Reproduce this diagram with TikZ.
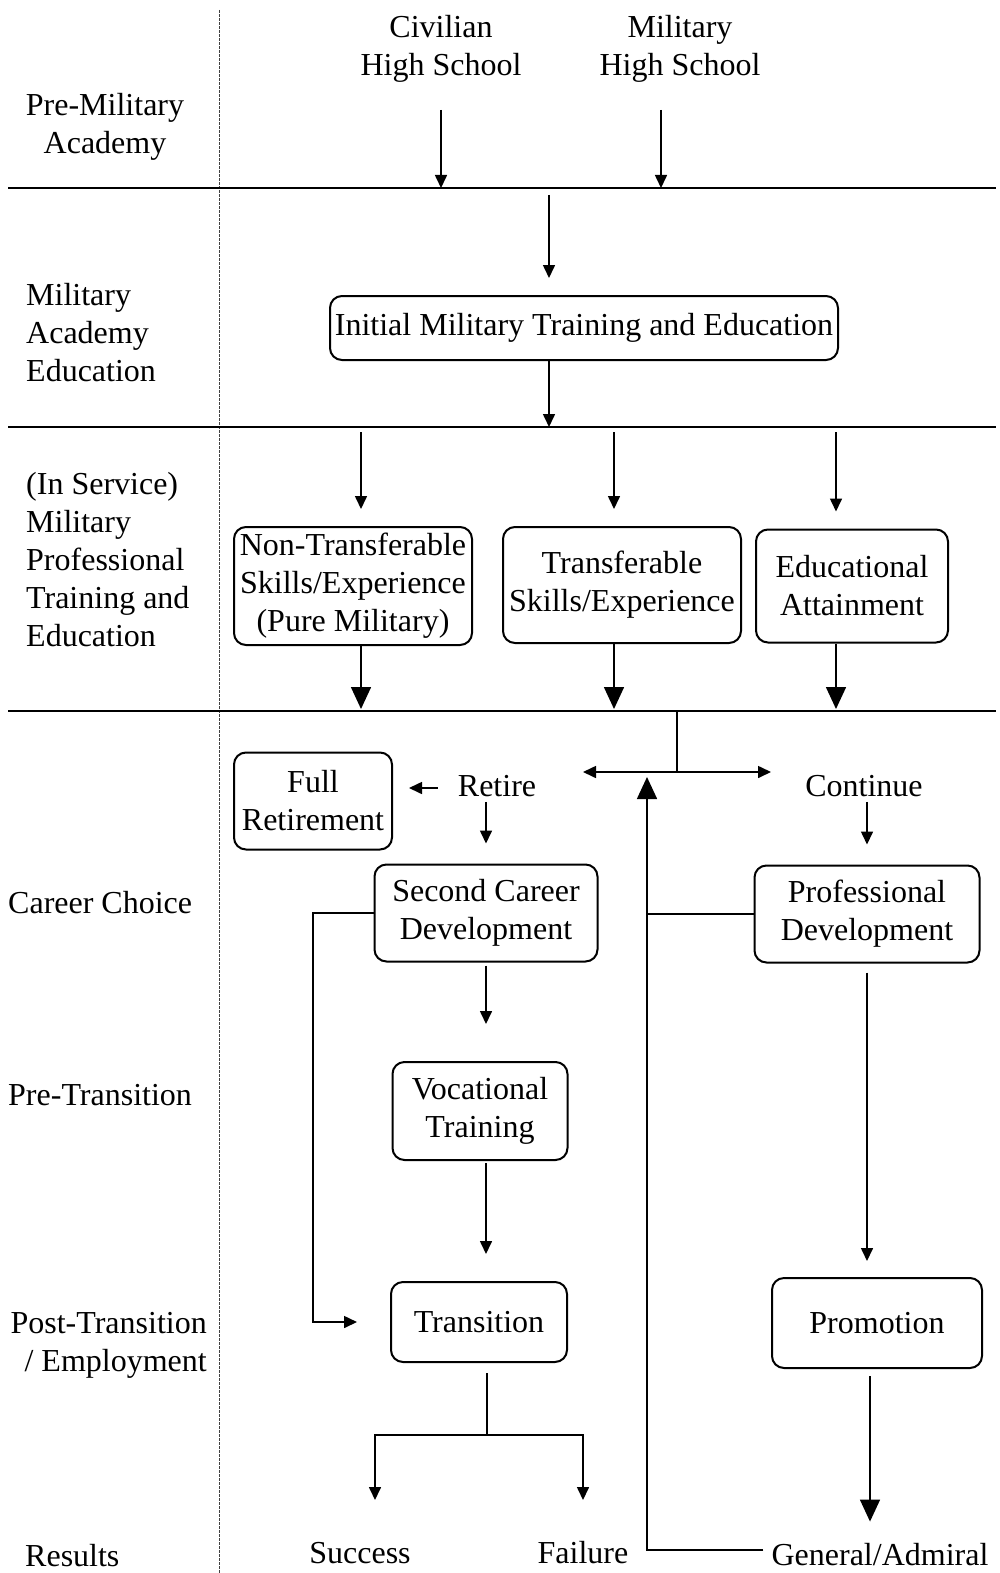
\documentclass[tikz,border=0pt]{standalone}
\usepackage{fontspec}
\setmainfont{Liberation Serif}
\usepackage{tikz}
\usetikzlibrary{arrows.meta, positioning}

\begin{document}
\begin{tikzpicture}[x=1pt, y=-1pt, font=\fontsize{32}{38}\selectfont,
  every node/.style={inner sep=0pt},
  stage/.style={draw, line width=2pt, rounded corners=12pt, align=center},
  conn/.style={line width=1.6pt},
  arr/.style={conn, -{Triangle[length=13pt,width=12pt]}},
  bigarr/.style={conn, -{Triangle[length=22pt,width=20pt]}},
  rule/.style={line width=2.4pt}]
  \useasboundingbox (0,0) rectangle (999,1573);

  % Phase rules
  \draw[line width=1pt, black!75, dash pattern=on 3pt off 1pt] (219,10) -- (219,1573);
  \coordinate (ruleA) at (8,188);
  \coordinate (ruleB) at (8,427);
  \coordinate (ruleC) at (8,711);
  \draw[rule] (ruleA) -- (996,188);
  \draw[rule] (ruleB) -- (996,427);
  \draw[rule] (ruleC) -- (996,711);

  % Phase labels
  \node[align=center] (premil) at (105,127) {Pre-Military\\Academy};
  \node[align=left, anchor=west] (acad) at (26,333) {Military\\Academy\\Education};
  \node[align=left, anchor=west] (insv) at (26,560) {(In Service)\\Military\\Professional\\Training and\\Education};
  \node[anchor=west] (choice) at (8,903) {Career Choice};
  \node[anchor=west] (pretr) at (8,1095) {Pre-Transition};
  \node[align=right, anchor=east] (posttr) at (207,1345) {Post-Transition\\/ Employment};
  \node[anchor=west] (res) at (25,1556) {Results};

  % Entry
  \node[align=center] (civ) at (441,49) {Civilian\\High School};
  \node[align=center] (mil) at (680,49) {Military\\High School};
  \draw[arr, shorten <=27pt] (civ.south) -- (civ.south |- ruleA);
  \draw[arr, shorten <=27pt] ([xshift=-19pt]mil.south) -- ([xshift=-19pt]mil.south |- ruleA);

  % Academy
  \node[stage, minimum width=508pt, minimum height=64pt] (init) at (584,328) {Initial Military Training and Education};
  \coordinate (feedA) at (549,188);
  \draw[arr, shorten <=7pt, shorten >=17pt] (feedA) -- (feedA |- init.north);
  \draw[arr] (init.south -| feedA) -- (feedA |- ruleB);

  % In service
  \node[stage, minimum width=238pt, minimum height=118pt] (ntr) at (353,586) {Non-Transferable\\Skills/Experience\\(Pure Military)};
  \node[stage, minimum width=238pt, minimum height=116pt] (trf) at (622,585) {Transferable\\Skills/Experience};
  \node[stage, minimum width=192pt, minimum height=113pt] (edu) at (852,586) {Educational\\Attainment};
  \foreach \x/\b in {361/ntr, 614/trf, 836/edu} {
    \draw[arr, shorten <=5pt, shorten >=17pt] (\x,427) -- (\x,0 |- \b.north);
    \draw[bigarr] (\x,0 |- \b.south) -- (\x,709);
  }

  % Career choice
  \coordinate (fork) at (677,711);
  \coordinate (split) at (677,772);
  \coordinate (toRet) at (583,772);
  \coordinate (toCont) at (771,772);
  \draw[conn] (fork) -- (split);
  \draw[conn, {Triangle[length=13pt,width=12pt]}-{Triangle[length=13pt,width=12pt]}] (toRet) -- (toCont);
  \node (ret) at (497,786) {Retire};
  \node (cont) at (864,786) {Continue};
  \node[stage, minimum width=158pt, minimum height=97pt] (full) at (313,801) {Full\\Retirement};
  \node[stage, minimum width=223pt, minimum height=97pt] (second) at (486,913) {Second Career\\Development};
  \node[stage, minimum width=225pt, minimum height=97pt] (prof) at (867,914) {Professional\\Development};
  \draw[arr, shorten <=20pt, shorten >=16pt] ([yshift=-2pt]ret.west) -- ([yshift=-2pt]full.east |- ret.west);
  \draw[arr, shorten <=5pt, shorten >=20pt] (second.north |- ret.south) -- (second.north);
  \draw[arr, shorten <=5pt, shorten >=20pt] (prof.north |- cont.south) -- (prof.north);

  % Pre-transition / transition
  \node[stage, minimum width=175pt, minimum height=98pt] (voc) at (480,1111) {Vocational\\Training};
  \node[stage, minimum width=176pt, minimum height=80pt] (trans) at (479,1322) {Transition};
  \node[stage, minimum width=210pt, minimum height=90pt] (promo) at (877,1323) {Promotion};
  \coordinate (side) at (313,913);
  \draw[arr, shorten >=33pt] (second.west) -- (side) -- (side |- trans.west) -- (trans.west);
  \draw[arr, shorten <=3pt, shorten >=37pt] (second.south) -- (second.south |- voc.north);
  \draw[arr, shorten <=2pt, shorten >=27pt] (second.south |- voc.south) -- (second.south |- trans.north);
  \draw[arr, shorten <=9pt, shorten >=16pt] (prof.south) -- (prof.south |- promo.north);

  % Results
  \node (succ) at (360,1553) {Success};
  \node (fail) at (583,1553) {Failure};
  \node (gen) at (880,1555) {General/Admiral};
  \coordinate (tfork) at (487,1435);
  \coordinate (okTip) at (375,1500);
  \coordinate (failTip) at (583,1500);
  \draw[conn, shorten <=10pt] (trans.south -| tfork) -- (tfork);
  \draw[arr] (tfork) -| (okTip);
  \draw[arr] (tfork) -| (failTip);
  \draw[bigarr, shorten <=7pt, shorten >=22pt] ([xshift=-7pt]promo.south) -- ([xshift=-7pt]promo.south |- gen.north);

  % Feedback to career choice
  \coordinate (upX) at (647,777);
  \draw[bigarr] (gen.west |- 0,1550) ++(-8,0) -- (upX |- 0,1550) -- (upX);
  \draw[conn] (prof.west) -- (prof.west -| upX);
\end{tikzpicture}
\end{document}
